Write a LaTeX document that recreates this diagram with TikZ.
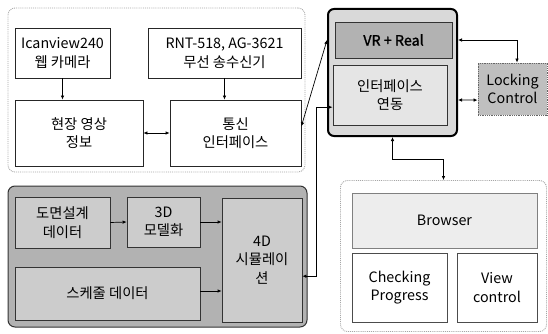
\documentclass[tikz,border=0pt]{standalone}
\usepackage{fontspec}
\setmainfont{Noto Sans CJK KR}[AutoFakeBold=1.5]
\usetikzlibrary{arrows.meta,calc}
\begin{document}
\begin{tikzpicture}[x=1pt,y=-1pt,
  every node/.style={font=\fontsize{14.3}{18.5}\selectfont, align=center, inner sep=0pt},
  grpA/.style={draw=gray!70, densely dotted, line width=0.9pt, rounded corners=7pt, fill=white},
  grpB/.style={draw=black!80, line width=1pt, rounded corners=7pt, fill=black!30},
  grpC/.style={draw=black, line width=2pt, rounded corners=6pt, fill=black!15},
  wbox/.style={draw=black!85, line width=0.7pt, fill=white},
  gbox/.style={draw=black!80, line width=0.7pt, fill=black!20},
  arr/.style={line width=0.7pt, -{Latex[length=4pt,width=3.5pt]}},
  darr/.style={line width=0.7pt, {Latex[length=4pt,width=3.5pt]}-{Latex[length=4pt,width=3.5pt]}}
]
\useasboundingbox (0,0) rectangle (548,334);
% groups
\node[grpA, minimum width=297, minimum height=164] (g1) at (156.5,90) {};
\node[grpB, minimum width=299, minimum height=141] (g2) at (157.5,256.5) {};
\node[grpC, minimum width=129, minimum height=127] (g3) at (392.5,72.5) {};
\node[grpA, minimum width=206, minimum height=151] (g4) at (443.5,256) {};
% top-left boxes
\node[wbox, minimum width=95, minimum height=50] (cam) at (62.5,53) {Icanview240\\웹 카메라};
\node[wbox, minimum width=153, minimum height=50] (rnt) at (224.5,53) {RNT-518, AG-3621\\무선 송수신기};
\node[wbox, minimum width=128, minimum height=66] (site) at (79,133) {현장 영상\\정보};
\node[wbox, minimum width=131, minimum height=66] (comm) at (235.5,133) {통신\\인터페이스};
% gray group boxes
\node[gbox, minimum width=95, minimum height=51] (plan) at (62.5,222.5) {도면설계\\데이터};
\node[gbox, minimum width=73, minimum height=50] (model) at (163.5,222) {3D\\모델화};
\node[gbox, minimum width=185, minimum height=53] (sched) at (107.5,293.5) {스케줄 데이터};
\node[gbox, minimum width=80, minimum height=124] (sim) at (262,260) {4D\\시뮬레이\\션};
% VR group
\node[draw=black!80, line width=0.9pt, fill=black!30, minimum width=117, minimum height=36] (vr) at (393.5,40) {\textbf{VR + Real}};
\node[draw=black!80, line width=0.9pt, fill=black!10, minimum width=114, minimum height=60] (iface) at (390,95) {인터페이스\\연동};
\node[draw=black!60, densely dotted, line width=0.8pt, fill=black!25, minimum width=69, minimum height=52] (lock) at (512.5,89) {Locking\\Control};
% browser group
\node[draw=black!50, line width=0.8pt, fill=black!7, minimum width=185, minimum height=55] (brow) at (444.5,220.5) {Browser};
\node[draw=black!70, line width=0.7pt, fill=white, minimum width=95, minimum height=69] (check) at (399.5,287.5) {Checking\\Progress};
\node[draw=black!70, line width=0.7pt, fill=white, minimum width=80, minimum height=69] (view) at (497,287.5) {View\\control};
% connectors
\draw[arr] (cam.south) -- (cam.south |- site.north);
\draw[arr] (rnt.south) -- (rnt.south |- comm.north);
\draw[darr] (site.east) -- (comm.west);
\draw[darr] ($(comm.north east)!0.4!(comm.south east)$) -- (g3.west |- vr.west);
\draw[arr] (plan.east) -- (model.west);
\draw[arr] (model.east) -- (model.east -| sim.west);
\draw[arr] (sched.east |- 0,291) -- (sim.west |- 0,291);
\draw[darr] ($(sim.north east)!0.63!(sim.south east)$) -- ++(14,0) |- ($(iface.north west)!0.7!(iface.south west)$);
\draw[darr] (g3.east |- vr.east) -| ([xshift=4.5]lock.north);
\draw[darr] (g3.east |- 0,100) -- ($(lock.north west)!0.71!(lock.south west)$);
\draw[darr] (g3.south) -- ++(0,22) -| (g4.north);
\end{tikzpicture}
\end{document}
